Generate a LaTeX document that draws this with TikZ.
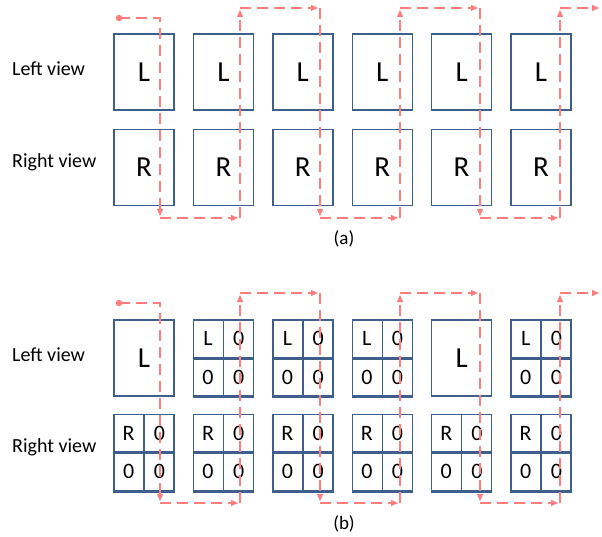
\documentclass[tikz,border=0pt]{standalone}
\usepackage{fontspec}
\setmainfont{Carlito}
\usepackage{tikz}
\usetikzlibrary{arrows.meta,calc,positioning}
\definecolor{boxblue}{RGB}{62,94,140}
\definecolor{pathred}{RGB}{255,125,125}

\begin{document}
\begin{tikzpicture}[x=1pt,y=-1pt,
  bigbox/.style={draw=boxblue,line width=1.4pt,minimum width=60pt,minimum height=76pt,inner sep=0pt,font=\fontsize{29}{32}\selectfont},
  quadbox/.style={draw=boxblue,line width=1.4pt,minimum width=60pt,minimum height=76pt,inner sep=0pt},
  cell/.style={font=\fontsize{22}{26}\selectfont},
  heavy/.style={draw=boxblue,line width=3pt},
  flow/.style={draw=pathred,line width=1.3pt,dash pattern=on 11pt off 6pt,-{Triangle[length=7pt,width=6pt]},shorten >=2pt},
  lbl/.style={anchor=base west,inner sep=0pt,font=\fontsize{20}{24}\selectfont}]
  \useasboundingbox (0,0) rectangle (602,537);
  % row labels
  \node[lbl] (aleft) at (12,76) {Left view};
  \node[lbl] (aright) at (12,168) {Right view};
  \node[lbl] (bleft) at (12,361) {Left view};
  \node[lbl] (bright) at (12,452) {Right view};
  \node[anchor=base,font=\fontsize{19}{22}\selectfont] (capa) at (344,245) {(a)};
  \node[anchor=base,font=\fontsize{19}{22}\selectfont] (capb) at (344,529) {(b)};
  % (a): full views
  \foreach \i in {0,...,5}{
    \node[bigbox] (aL\i) at (144+79.4*\i,72) {L};
    \node[bigbox] (aR\i) at (144+79.4*\i,167.5) {R};
  }
  % (b): full L views and 2x2 packed views
  \foreach \i in {0,4} \node[bigbox] (bL\i) at (144+79.4*\i,358) {L};
  \foreach \r/\y/\cols in {L/358/{1,2,3,5},R/452.5/{0,1,2,3,4,5}}{
    \foreach \i in \cols{
      \node[quadbox] (b\r\i) at (144+79.4*\i,\y) {};
      \draw[draw=boxblue,line width=1.4pt] (b\r\i.north) -- (b\r\i.south);
      \draw[heavy] (b\r\i.west) -- (b\r\i.east);
      \draw[heavy] (b\r\i.south west) -- (b\r\i.south east);
      \node[cell] at ($(b\r\i.center)!0.5!(b\r\i.north west)$) {\r};
      \node[cell] at ($(b\r\i.center)!0.5!(b\r\i.north east)$) {0};
      \node[cell] at ($(b\r\i.center)!0.5!(b\r\i.south west)$) {0};
      \node[cell] at ($(b\r\i.center)!0.5!(b\r\i.south east)$) {0};
    }
  }
  % scan order
  \foreach \p/\T/\B in {a/8/218,b/293/503}{
    \foreach \i in {0,...,5}{
      \coordinate (\p top\i) at (160+80*\i,\T);
      \coordinate (\p bot\i) at (160+80*\i,\B);
    }
    \coordinate (\p start) at (119,\T+10);
    \coordinate (\p end) at (601,\T);
    \fill[pathred] (\p start) circle (3.2pt);
    \draw[flow] (\p start) -| (\p bot0);
    \foreach \s/\e in {bot0/bot1,bot1/top1,top1/top2,top2/bot2,bot2/bot3,bot3/top3,top3/top4,top4/bot4,bot4/bot5,bot5/top5,top5/end}
      \draw[flow] (\p\s) -- (\p\e);
  }
\end{tikzpicture}
\end{document}
